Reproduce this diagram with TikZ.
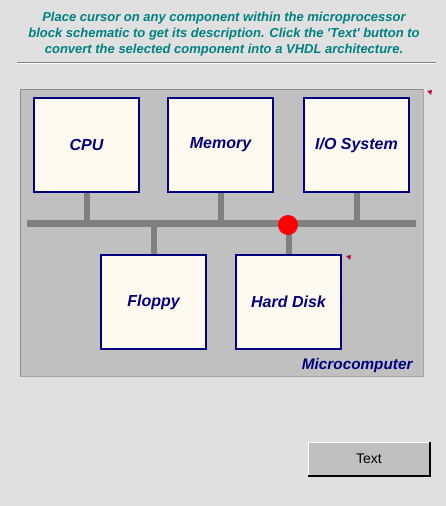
\documentclass[tikz,border=0pt]{standalone}
\usepackage{fontspec}
\setmainfont{Liberation Sans}
\begin{document}
\begin{tikzpicture}[x=1pt,y=-1pt,
  comp/.style={draw=navyc,line width=2.4pt,fill=floral,minimum width=105pt,minimum height=94pt,inner sep=0pt,
    font=\fontsize{16}{16}\selectfont\bfseries\itshape,text=navyc},
  bus/.style={draw=busgray,line width=7pt},
  stub/.style={draw=busgray,line width=6pt}]
\definecolor{bgc}{HTML}{E0E0E0}
\definecolor{panel}{HTML}{C0C0C0}
\definecolor{navyc}{HTML}{000080}
\definecolor{floral}{HTML}{FFFAF0}
\definecolor{busgray}{HTML}{808080}
\definecolor{tealc}{HTML}{008080}
\definecolor{markc}{HTML}{C00050}
\useasboundingbox (0,0) rectangle (446,506);
\fill[bgc] (0,0) rectangle (446,506);
% heading
\node[text=tealc,font=\fontsize{13}{16}\selectfont\bfseries\itshape,align=center] (head) at (224,34.5)
  {Place cursor on any component within the microprocessor\\block schematic to get its description. Click the \textquotesingle Text\textquotesingle{} button to\\convert the selected component into a VHDL architecture.};
\draw[gray,line width=1pt] (17,62) -- (436,62);
\draw[white,line width=0.8pt] (17,63.5) -- (436,63.5);
% panel
\fill[panel] (20,89) rectangle (423,376);
\draw[draw=gray!90,line width=1pt] (20,376) -- (20,89) -- (423,89);
\draw[draw=gray!70,line width=1pt] (423,89) -- (423,376) -- (20,376);
% components
\node[comp] (cpu) at (86.5,145) {CPU};
\node[comp] (mem) at (220.5,145) {Memory};
\node[comp] (io) at (356.5,145) {I/O System};
\node[comp] (fl) at (153.5,302) {Floppy};
\node[comp] (hd) at (288.5,302) {Hard Disk};
% bus
\coordinate (busL) at (27,223);
\coordinate (busR) at (416,223);
\draw[bus] (busL) -- (busR);
\draw[stub] (cpu.south) -- (cpu.south |- busL);
\draw[stub] (mem.south) -- (mem.south |- busL);
\draw[stub] (io.south) -- (io.south |- busL);
\draw[stub] (fl.north) -- (fl.north |- busL);
\draw[stub] (hd.north) -- (hd.north |- busL);
\node[circle,fill=red,minimum size=20pt,inner sep=0pt] (dot) at (288,225) {};
% tiny marks
\fill[markc] (427,91) -- (432,90) -- (431,95) -- cycle;
\fill[markc] (346,256) -- (351,255) -- (350,260) -- cycle;
\node[text=navyc,font=\fontsize{15.3}{15.3}\selectfont\bfseries\itshape,anchor=east] (mc) at (416,366) {Microcomputer};
% button
\fill[panel] (308,442) rectangle (430,476);
\draw[white,line width=1pt] (308,476) -- (308,442) -- (430,442);
\draw[black,line width=1.2pt] (430,442) -- (430,476) -- (308,476);
\node[font=\fontsize{14}{14}\selectfont] (btn) at (369,459) {Text};
\end{tikzpicture}
\end{document}
